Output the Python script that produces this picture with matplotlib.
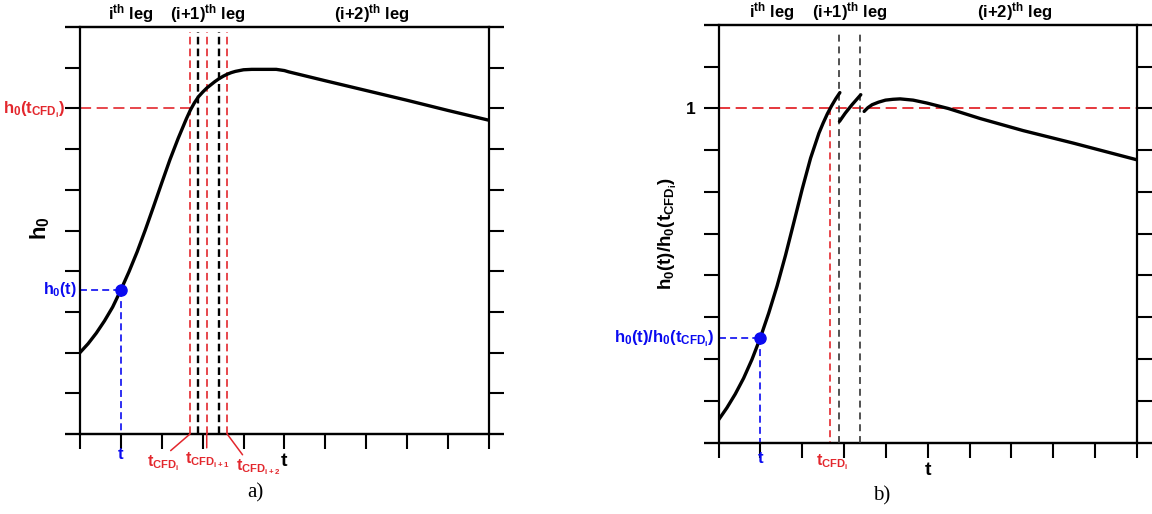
import matplotlib
matplotlib.use("Agg")
import matplotlib.pyplot as plt

plt.rcParams['font.family'] = 'Liberation Sans'
plt.rcParams['font.weight'] = 'bold'
plt.rcParams['mathtext.fontset'] = 'custom'
plt.rcParams['mathtext.rm'] = 'Liberation Sans:bold'
plt.rcParams['mathtext.it'] = 'Liberation Sans:bold'
plt.rcParams['mathtext.bf'] = 'Liberation Sans:bold'
plt.rcParams['mathtext.sf'] = 'Liberation Sans:bold'
plt.rcParams['mathtext.default'] = 'bf'
plt.rcParams['lines.scale_dashes'] = False

###############  data
ticks = list(range(11))
leg_names = [r'i$^{th}$ leg', r'(i+1)$^{th}$ leg', r'(i+2)$^{th}$ leg']
leg_pos_a = [1.25, 3.13, 7.14]
leg_pos_b = [1.27, 3.15, 7.07]

# panel a) : h0 vs t
t_a = [0, 0.2, 0.4, 0.6, 0.8, 1.0, 1.2, 1.4, 1.6, 1.8, 2.0, 2.2, 2.4, 2.5, 2.6, 2.7, 2.8,
       2.9, 3.0, 3.1, 3.2, 3.3, 3.4, 3.5, 3.6, 3.7, 3.8, 3.9, 4.0, 4.2, 4.5, 4.8, 5.0, 5.1,
       6.0, 7.0, 8.0, 9.0, 10.0]
h_a = [2.0, 2.22, 2.48, 2.78, 3.12, 3.54, 3.99, 4.48, 5.02, 5.59, 6.17, 6.74, 7.26, 7.5,
       7.74, 7.96, 8.14, 8.29, 8.4, 8.5, 8.58, 8.66, 8.73, 8.79, 8.84, 8.88, 8.91, 8.93,
       8.95, 8.96, 8.96, 8.96, 8.93, 8.9, 8.68, 8.44, 8.2, 7.95, 7.71]
t_pt_a, h_pt_a = 1.0, 3.54
h_ref_a = 8.0
cfd_a = [2.69, 2.89, 3.1, 3.4, 3.6]
cfd_col_a = ['r', 'k', 'r', 'k', 'r']

# panel b) : h0(t)/h0(t_CFD_i) vs t, three legs
t_b1 = [0, 0.2, 0.4, 0.6, 0.8, 1.0, 1.2, 1.4, 1.6, 1.8, 2.0, 2.2, 2.4, 2.5, 2.6, 2.7, 2.8, 2.9]
h_b1 = [0.54, 0.83, 1.16, 1.54, 1.99, 2.51, 3.1, 3.75, 4.48, 5.27, 6.07, 6.81, 7.41, 7.65,
        7.87, 8.06, 8.23, 8.38]
t_b2 = [2.89, 3.03, 3.19, 3.4]
h_b2 = [7.69, 7.89, 8.09, 8.33]
t_b3 = [3.48, 3.57, 3.67, 3.82, 3.99, 4.17, 4.34, 4.65, 4.98, 5.49, 6.25, 7.28, 8.48, 10.0]
h_b3 = [7.93, 8.02, 8.09, 8.15, 8.2, 8.22, 8.23, 8.2, 8.13, 8.0, 7.76, 7.47, 7.17, 6.77]
t_pt_b, h_pt_b = 1.0, 2.51
h_ref_b = 8.0
t_cfd_b = 2.67
legs_b = [2.89, 3.39]

red = '#e3272d'
blue = '#0a0af0'

fig = plt.figure(figsize=(11.52, 5.14), dpi=100)
axa = fig.add_axes([0.0694, 0.1556, 0.3550, 0.7918])
axb = fig.add_axes([0.6237, 0.1391, 0.3633, 0.8123])


def frame(ax, ext):
    ax.set_xlim(0, 10)
    ax.set_ylim(0, 10)
    ax.set_xticks(ticks)
    ax.set_yticks(ticks)
    ax.tick_params(direction='out', length=10.5, width=1.5, left=True, right=True,
                   top=False, bottom=True, labelleft=False, labelbottom=False)
    for s in ax.spines.values():
        s.set_linewidth(1.6)
    for yy in (0, 1):
        ax.plot([-ext, 1 + ext], [yy, yy], color='k', lw=1.6, transform=ax.transAxes,
                clip_on=False, solid_capstyle='butt')


def legs(ax, pos):
    for name, p in zip(leg_names, pos):
        ax.annotate(name, xy=(p, 1), xycoords=('data', 'axes fraction'), xytext=(0, 10),
                    textcoords='offset points', ha='center', va='center', fontsize=12)


############### a)
frame(axa, 0.036)
legs(axa, leg_pos_a)
axa.plot(t_a, h_a, color='k', lw=2.4, solid_capstyle='round', zorder=5)
for x, c in zip(cfd_a, cfd_col_a):
    axa.axvline(x, ymin=0, ymax=0.988, color=(red if c == 'r' else 'k'),
                lw=(1.2 if c == 'r' else 1.7), dashes=(5.5, 3), zorder=3)
axa.plot([0, cfd_a[0]], [h_ref_a, h_ref_a], color=red, lw=1.2, dashes=(8, 4))
axa.plot([0, t_pt_a], [h_pt_a, h_pt_a], color=blue, lw=1.2, dashes=(5, 3))
axa.plot([t_pt_a, t_pt_a], [h_pt_a, 0], color=blue, lw=1.2, dashes=(5, 3))
axa.plot([t_pt_a], [h_pt_a], 'o', color=blue, ms=8, zorder=6)

axa.annotate(r'$h_0(t_{CFD_i})$', xy=(0, h_ref_a), xytext=(-10.5, -1), textcoords='offset points',
             ha='right', va='center', color=red, fontsize=12)
axa.annotate(r'$h_0(t)$', xy=(0, h_pt_a), xytext=(-2, 0), textcoords='offset points',
             ha='right', va='center', color=blue, fontsize=11.5)
axa.annotate('t', xy=(t_pt_a, 0), xytext=(0, -15), textcoords='offset points',
             ha='center', va='center', color=blue, fontsize=12)
axa.annotate('t', xy=(5, 0), xytext=(0, -19.5), textcoords='offset points',
             ha='center', va='center', color='k', fontsize=14)

cfd_labels = [r'$t_{CFD_i}$', r'$t_{CFD_{i+1}}$', r'$t_{CFD_{i+2}}$']
cfd_label_at = [cfd_a[0], cfd_a[2], cfd_a[4]]
cfd_offsets = [(-19, -21), (0, -19), (22, -24)]
cfd_rel = [(0.55, 0.9), (0.5, 1.0), (0.22, 0.95)]
for lab, x, off, rp in zip(cfd_labels, cfd_label_at, cfd_offsets, cfd_rel):
    axa.annotate(lab, xy=(x, 0), xytext=off, textcoords='offset points', ha='center',
                 va='center', color=red, fontsize=11.5,
                 arrowprops=dict(arrowstyle='-', color=red, lw=1.1, shrinkA=0, shrinkB=0,
                                 relpos=rp))

axa.text(-0.098, 0.505, r'$h_0$', rotation=90, transform=axa.transAxes,
         ha='center', va='center', fontsize=16)

############### b)
frame(axb, 0.035)
legs(axb, leg_pos_b)
axb.set_yticks(ticks, ['' if v != h_ref_b else '1' for v in ticks])
axb.tick_params(labelleft=True, labelsize=12.5, pad=6)
for tt, hh in ((t_b1, h_b1), (t_b2, h_b2), (t_b3, h_b3)):
    axb.plot(tt, hh, color='k', lw=2.4, solid_capstyle='round', zorder=5)
for x in legs_b:
    axb.axvline(x, ymin=0, ymax=0.988, color='#333333', lw=1.2, dashes=(5, 3.5), zorder=3)
axb.axhline(h_ref_b, color=red, lw=1.3, dashes=(8, 4))
axb.plot([t_cfd_b, t_cfd_b], [h_ref_b, 0], color=red, lw=1.2, dashes=(5, 3))
axb.plot([0, t_pt_b], [h_pt_b, h_pt_b], color=blue, lw=1.2, dashes=(5, 3))
axb.plot([t_pt_b, t_pt_b], [h_pt_b, 0], color=blue, lw=1.2, dashes=(5, 3))
axb.plot([t_pt_b], [h_pt_b], 'o', color=blue, ms=8, zorder=6)

axb.annotate(r'$h_0(t)/h_0(t_{CFD_i})$', xy=(0, h_pt_b), xytext=(-2.5, -1),
             textcoords='offset points', ha='right', va='center', color=blue, fontsize=12)
axb.annotate('t', xy=(t_pt_b, 0), xytext=(0, -11.5), textcoords='offset points',
             ha='center', va='center', color=blue, fontsize=12)
axb.annotate(r'$t_{CFD_i}$', xy=(t_cfd_b, 0), xytext=(1, -14), textcoords='offset points',
             ha='center', va='center', color=red, fontsize=11.5)
axb.annotate('t', xy=(5, 0), xytext=(0, -20), textcoords='offset points',
             ha='center', va='center', color='k', fontsize=14)
axb.text(-0.121, 0.5, r'$h_0(t)/h_0(t_{CFD_i})$', rotation=90, transform=axb.transAxes,
         ha='center', va='center', fontsize=13.5)

fig.text(255 / 1152, 1 - 493 / 514, 'a)', family='Liberation Serif', fontweight='normal',
         fontsize=15, ha='center', va='center')
fig.text(882 / 1152, 1 - 496 / 514, 'b)', family='Liberation Serif', fontweight='normal',
         fontsize=15, ha='center', va='center')

fig.savefig('out.png', dpi=100)
